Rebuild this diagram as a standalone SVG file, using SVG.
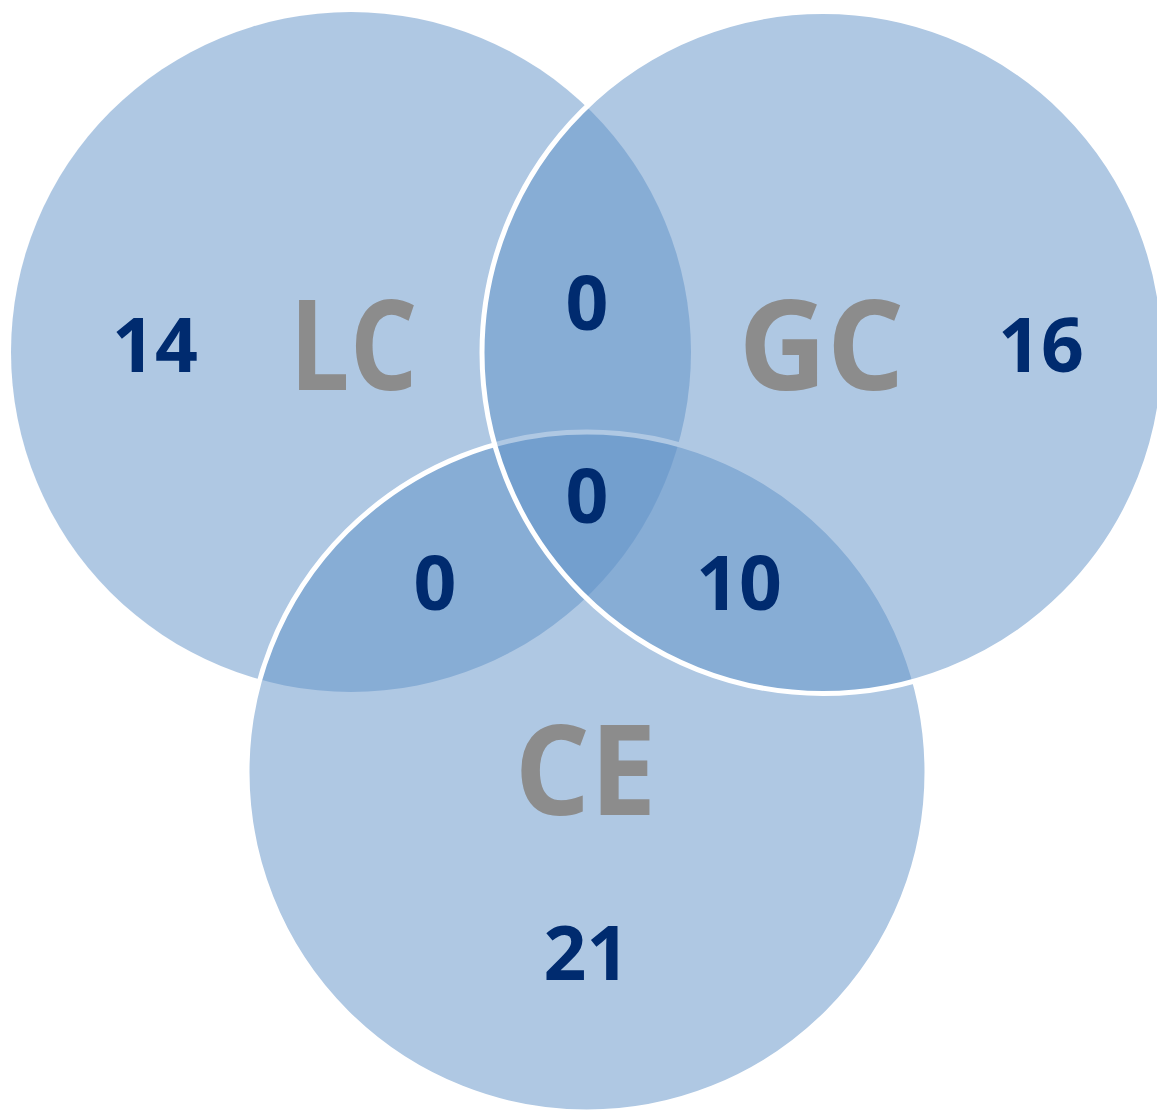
<svg xmlns="http://www.w3.org/2000/svg" width="1157" height="1113" viewBox="0 0 1157 1113">
<style>
.set{fill:#5F91C8;fill-opacity:0.5}
.edge{stroke:#FFFFFF;stroke-width:5}
.num{font-family:"Open Sans","Liberation Sans",sans-serif;font-weight:bold;font-size:75px;fill:#002B6F;text-anchor:middle}
.lbl{font-family:"Open Sans","Liberation Sans",sans-serif;font-weight:bold;font-size:126px;fill:#8C8C8C;text-anchor:middle}
</style>
<rect width="1157" height="1113" fill="#FFFFFF"/>
<g id="LC"><circle class="set" cx="351" cy="352" r="340"/></g>
<g id="CE"><circle class="set edge" cx="587" cy="772" r="340"/></g>
<g id="GC"><circle class="set edge" cx="823" cy="352.5" r="341"/></g>
<g id="connectors"></g>
<g id="labels">
<text class="lbl" x="353.5" y="390" textLength="128" lengthAdjust="spacingAndGlyphs">LC</text>
<text class="lbl" x="821.5" y="390" textLength="166" lengthAdjust="spacingAndGlyphs">GC</text>
<text class="lbl" x="585.5" y="815" textLength="142" lengthAdjust="spacingAndGlyphs">CE</text>
<text class="num" x="155" y="372">14</text>
<text class="num" x="1041" y="372">16</text>
<text class="num" x="587" y="330">0</text>
<text class="num" x="587" y="523">0</text>
<text class="num" x="435" y="610">0</text>
<text class="num" x="739" y="610">10</text>
<text class="num" x="586.5" y="980">21</text>
</g>
</svg>
